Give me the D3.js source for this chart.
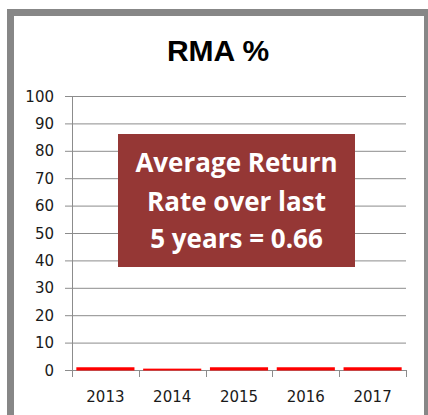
<!DOCTYPE html>
<html><head><meta charset="utf-8">
<script src="https://cdn.jsdelivr.net/npm/d3@7"></script>
<style>body{margin:0;background:#fff}svg{display:block}</style>
</head><body>
<script>
const categories = ["2013","2014","2015","2016","2017"];
const values = [1.0, 0.5, 1.0, 1.0, 1.0];
const yTicks = [0,10,20,30,40,50,60,70,80,90,100];
const title = "RMA %";
const boxLines = ["Average Return","Rate over last","5 years = 0.66"];

const W = 428, H = 415;
const svg = d3.select("body").append("svg").attr("width", W).attr("height", H);

// frame
svg.append("rect").attr("x",0).attr("y",0).attr("width",W).attr("height",H).attr("fill","#fff");
svg.append("rect").attr("x",10.5).attr("y",12.5).attr("width",417).attr("height",420)
  .attr("fill","none").attr("stroke","#878787").attr("stroke-width",7);

const x0 = 72, x1 = 406, y0 = 370, y1 = 96;
const x = d3.scaleBand().domain(categories).range([x0, x1]).paddingInner(0.13).paddingOuter(0.065);
const xb = d3.scaleBand().domain(categories).range([x0, x1]);
const y = d3.scaleLinear().domain([0,100]).range([y0, y1]);

// gridlines
svg.append("g").selectAll("line").data(yTicks).join("line")
  .attr("x1", x0-7).attr("x2", x1).attr("y1", d=>y(d)+0.5).attr("y2", d=>y(d)+0.5)
  .attr("stroke","#8c8c8c").attr("stroke-width",1);

// y axis line
svg.append("line").attr("x1",x0+0.5).attr("x2",x0+0.5).attr("y1",y1).attr("y2",y0+7)
  .attr("stroke","#8c8c8c");
// x ticks
const bounds = categories.map(c=>xb(c)).concat([x1]);
svg.append("g").selectAll("line").data(bounds).join("line")
  .attr("x1",d=>Math.round(d)+0.5).attr("x2",d=>Math.round(d)+0.5).attr("y1",y0).attr("y2",y0+7)
  .attr("stroke","#8c8c8c");

// bars
svg.append("g").selectAll("rect").data(values).join("rect")
  .attr("x",(d,i)=>x(categories[i])).attr("width",x.bandwidth())
  .attr("y",d=>y(d)).attr("height",d=>y0-y(d)+0.5).attr("fill","#ff0000");

// y labels
svg.append("g").selectAll("text").data(yTicks).join("text")
  .attr("x",54).attr("y",d=>y(d)+5.5).attr("text-anchor","end")
  .attr("font-family","DejaVu Sans").attr("font-size",15).attr("fill","#1a1a1a").text(d=>d);

// x labels
svg.append("g").selectAll("text").data(categories).join("text")
  .attr("x",d=>xb(d)+xb.bandwidth()/2).attr("y",402).attr("text-anchor","middle")
  .attr("font-family","DejaVu Sans").attr("font-size",15).attr("fill","#1a1a1a").text(d=>d);

// title
svg.append("text").attr("x",218).attr("y",61).attr("text-anchor","middle")
  .attr("font-family","Liberation Sans, Arial").attr("font-weight","bold").attr("font-size",30)
  .attr("fill","#000").text(title);

// annotation box
svg.append("rect").attr("x",118).attr("y",134).attr("width",237).attr("height",133).attr("fill","#953735");
const ty = [172, 211, 248];
svg.append("g").selectAll("text").data(boxLines).join("text")
  .attr("x",236.5).attr("y",(d,i)=>ty[i]).attr("text-anchor","middle")
  .attr("font-family","Open Sans").attr("font-weight","bold").attr("font-size",26)
  .attr("fill","#fff").text(d=>d);
</script>
</body></html>
